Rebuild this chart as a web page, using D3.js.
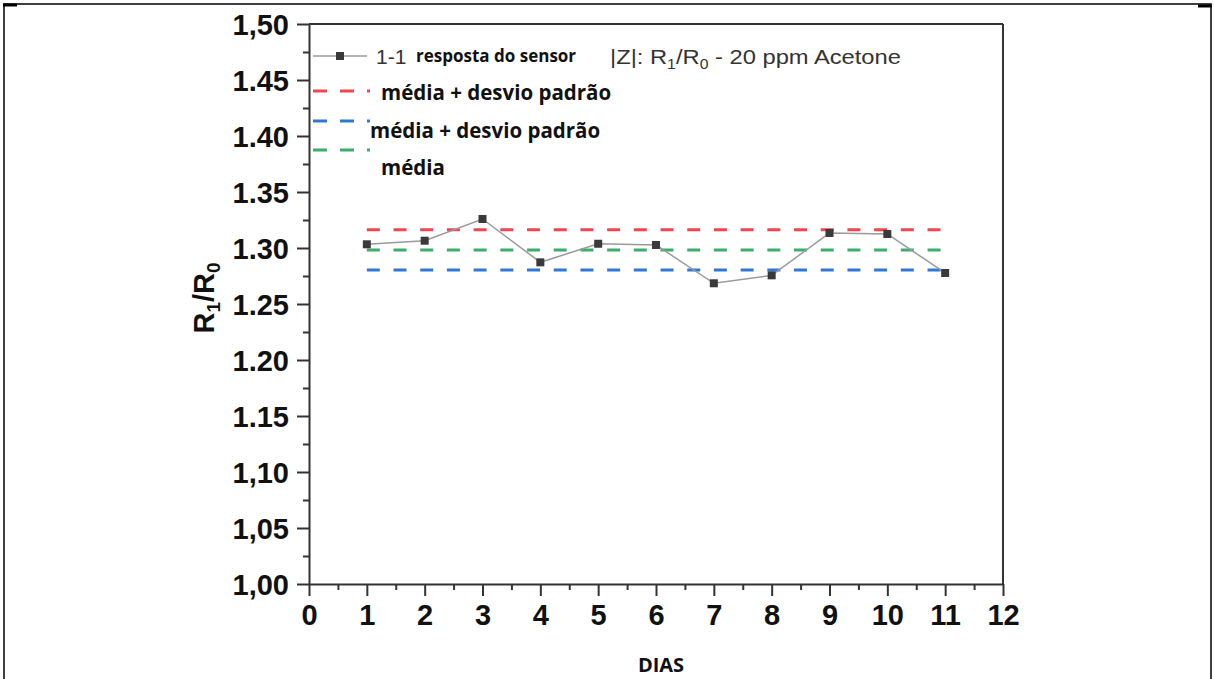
<!DOCTYPE html>
<html>
<head>
<meta charset="utf-8">
<script src="https://cdn.jsdelivr.net/npm/d3@7"></script>
<style>
  body { margin: 0; background: #fff; }
  svg { display: block; }
</style>
</head>
<body>
<div id="wrapper"></div>
<script>
// data
const dias = [1, 2, 3, 4, 5, 6, 7, 8, 9, 10, 11]
const resposta = [1.3033, 1.3065, 1.3259, 1.2872, 1.3038, 1.3027, 1.2685, 1.2756, 1.3134, 1.3125, 1.2777]
const refNames = ['média + desvio padrão', 'média + desvio padrão', 'média']
const refValues = [1.3163, 1.2804, 1.2982]
const refColors = ['#f0464f', '#2f78d8', '#3aae6a']
const yTickValues = [1.00, 1.05, 1.10, 1.15, 1.20, 1.25, 1.30, 1.35, 1.40, 1.45, 1.50]
const yTickLabels = ['1,00', '1,05', '1,10', '1.15', '1.20', '1.25', '1.30', '1.35', '1.40', '1.45', '1,50']
const xTickValues = [0, 1, 2, 3, 4, 5, 6, 7, 8, 9, 10, 11, 12]

const width = 1214
const height = 679
const dimensions = {
    margin: { top: 24, left: 309, right: 211, bottom: 95 },
}
dimensions.boundedWidth = width - dimensions.margin.left - dimensions.margin.right
dimensions.boundedHeight = height - dimensions.margin.top - dimensions.margin.bottom

const svg = d3.select('#wrapper').append('svg')
    .attr('width', width)
    .attr('height', height)

// page frame
svg.append('rect')
    .attr('x', 4).attr('y', 4)
    .attr('width', 1207).attr('height', 690)
    .attr('fill', 'none').attr('stroke', '#000').attr('stroke-width', 1.5)
svg.append('line').attr('x1', 3).attr('x2', 17).attr('y1', 5).attr('y2', 5)
    .attr('stroke', '#000').attr('stroke-width', 3)
svg.append('line').attr('x1', 1198).attr('x2', 1212).attr('y1', 6).attr('y2', 6)
    .attr('stroke', '#000').attr('stroke-width', 3)

const bounds = svg.append('g')
    .attr('transform', `translate(${dimensions.margin.left},${dimensions.margin.top})`)

const xScale = d3.scaleLinear().domain([0, 12]).range([0, dimensions.boundedWidth])
const yScale = d3.scaleLinear().domain([1.0, 1.5]).range([dimensions.boundedHeight, 0])

const axisColor = '#333'

// minor ticks
const yMinor = d3.range(1.025, 1.5, 0.05)
const xMinor = d3.range(0.5, 12, 1)
bounds.append('g')
    .call(d3.axisLeft(yScale).tickValues(yMinor).tickSize(6).tickFormat(''))
    .call(g => g.select('.domain').remove())
    .call(g => g.selectAll('line').attr('stroke', axisColor).attr('stroke-width', 2))
bounds.append('g')
    .attr('transform', `translate(0,${dimensions.boundedHeight})`)
    .call(d3.axisBottom(xScale).tickValues(xMinor).tickSize(6).tickFormat(''))
    .call(g => g.select('.domain').remove())
    .call(g => g.selectAll('line').attr('stroke', axisColor).attr('stroke-width', 2))

// major axes
const yAxis = bounds.append('g')
    .call(d3.axisLeft(yScale).tickValues(yTickValues).tickSize(12).tickSizeOuter(0)
        .tickPadding(8).tickFormat((d, i) => yTickLabels[i]))
yAxis.selectAll('text')
    .attr('font-family', 'Liberation Sans, Arial, sans-serif')
    .attr('font-weight', 'bold')
    .attr('font-size', 29)
    .attr('fill', '#111')
    .attr('dy', '0.35em')

const xAxis = bounds.append('g')
    .attr('transform', `translate(0,${dimensions.boundedHeight})`)
    .call(d3.axisBottom(xScale).tickValues(xTickValues).tickSize(12).tickSizeOuter(0).tickPadding(8))
xAxis.selectAll('text')
    .attr('font-family', 'Liberation Sans, Arial, sans-serif')
    .attr('font-weight', 'bold')
    .attr('font-size', 29)
    .attr('fill', '#111')

;[yAxis, xAxis].forEach(a => {
    a.selectAll('line').attr('stroke', axisColor).attr('stroke-width', 2)
    a.select('.domain').attr('stroke', axisColor).attr('stroke-width', 2)
})

// top and right frame of the plot
bounds.append('line')
    .attr('x1', 0).attr('x2', dimensions.boundedWidth)
    .attr('y1', 0).attr('y2', 0)
    .attr('stroke', axisColor).attr('stroke-width', 2)
bounds.append('line')
    .attr('x1', dimensions.boundedWidth).attr('x2', dimensions.boundedWidth)
    .attr('y1', 0).attr('y2', dimensions.boundedHeight)
    .attr('stroke', axisColor).attr('stroke-width', 2)

// reference lines
bounds.selectAll('.ref')
    .data(refValues)
    .join('line')
    .attr('class', 'ref')
    .attr('x1', xScale(dias[0]))
    .attr('x2', xScale(dias[dias.length - 1]))
    .attr('y1', d => yScale(d))
    .attr('y2', d => yScale(d))
    .attr('stroke', (d, i) => refColors[i])
    .attr('stroke-width', 3)
    .attr('stroke-dasharray', '13 13.7')

// data line + markers
const lineGen = d3.line().x((d, i) => xScale(dias[i])).y(d => yScale(d))
bounds.append('path')
    .datum(resposta)
    .attr('d', lineGen)
    .attr('fill', 'none')
    .attr('stroke', '#9a9a9a')
    .attr('stroke-width', 1.5)
bounds.selectAll('.pt')
    .data(resposta)
    .join('rect')
    .attr('class', 'pt')
    .attr('x', (d, i) => xScale(dias[i]) - 4)
    .attr('y', d => yScale(d) - 4)
    .attr('width', 8).attr('height', 8)
    .attr('fill', '#3a3a3a')

// legend
const legend = svg.append('g')
legend.append('line')
    .attr('x1', 313).attr('x2', 367).attr('y1', 56).attr('y2', 56)
    .attr('stroke', '#9a9a9a').attr('stroke-width', 1.5)
legend.append('rect')
    .attr('x', 336).attr('y', 52).attr('width', 8).attr('height', 8)
    .attr('fill', '#3a3a3a')
legend.append('text')
    .attr('x', 376).attr('y', 64)
    .attr('font-family', 'Liberation Sans, Arial, sans-serif')
    .attr('font-size', 21).attr('fill', '#333')
    .text('1-1')
legend.append('text')
    .attr('x', 416).attr('y', 62)
    .attr('font-family', 'Open Sans, sans-serif')
    .attr('font-weight', 'bold')
    .attr('font-size', 17).attr('fill', '#111')
    .text('resposta do sensor')
const zt = legend.append('text')
    .attr('transform', 'translate(610,64) scale(1.13,1)')
    .attr('font-family', 'Liberation Sans, Arial, sans-serif')
    .attr('font-size', 21).attr('fill', '#333')
zt.append('tspan').text('|Z|: R')
zt.append('tspan').attr('font-size', 14).attr('dy', 5).text('1')
zt.append('tspan').attr('dy', -5).text('/R')
zt.append('tspan').attr('font-size', 14).attr('dy', 5).text('0')
zt.append('tspan').attr('dy', -5).text(' - 20 ppm Acetone')

const legRows = [
    { y: 91, tx: 381, ty: 100 },
    { y: 121, tx: 370, ty: 138 },
    { y: 150, tx: 381, ty: 175 },
]
legRows.forEach((r, i) => {
    legend.append('line')
        .attr('x1', 313).attr('x2', 370).attr('y1', r.y).attr('y2', r.y)
        .attr('stroke', refColors[i]).attr('stroke-width', 3)
        .attr('stroke-dasharray', '14 13')
    legend.append('text')
        .attr('x', r.tx).attr('y', r.ty)
        .attr('font-family', 'Open Sans, sans-serif')
        .attr('font-weight', 'bold')
        .attr('font-size', 20.5).attr('fill', '#111')
        .text(refNames[i])
})

// axis titles
const yTitle = svg.append('text')
    .attr('transform', 'translate(214,298) rotate(-90)')
    .attr('text-anchor', 'middle')
    .attr('font-family', 'Liberation Sans, Arial, sans-serif')
    .attr('font-weight', 'bold')
    .attr('font-size', 29).attr('fill', '#111')
yTitle.append('tspan').text('R')
yTitle.append('tspan').attr('font-size', 19).attr('dy', 6).text('1')
yTitle.append('tspan').attr('dy', -6).text('/R')
yTitle.append('tspan').attr('font-size', 19).attr('dy', 6).text('0')

svg.append('text')
    .attr('x', 661).attr('y', 672)
    .attr('text-anchor', 'middle')
    .attr('font-family', 'Open Sans, sans-serif')
    .attr('font-weight', 'bold')
    .attr('font-size', 20).attr('fill', '#111')
    .text('DIAS')
</script>
</body>
</html>
